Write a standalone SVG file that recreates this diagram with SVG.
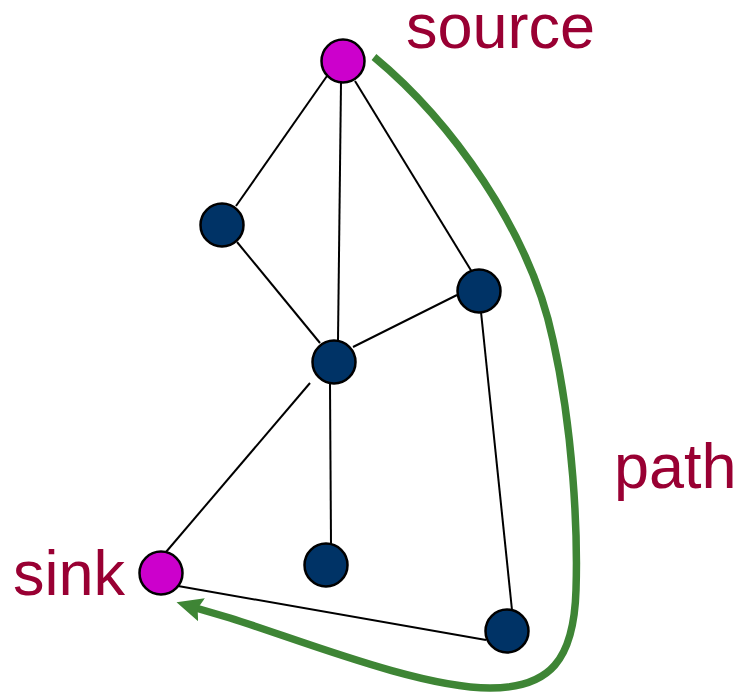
<svg xmlns="http://www.w3.org/2000/svg" width="744" height="694" viewBox="0 0 744 694">
  <style>
    .edge { stroke: #000; stroke-width: 2; fill: none; }
    .node { stroke: #000; stroke-width: 2.5; }
    .term { fill: #CC00CC; }
    .inner { fill: #003366; }
    .label { font-family: "Liberation Sans", Arial, sans-serif; font-size: 63px; fill: #990033; }
    .route { stroke: #3E8535; stroke-width: 7.5; fill: none; }
  </style>
  <defs>
    <marker id="arrowhead" markerUnits="userSpaceOnUse" viewBox="0 0 28 26" markerWidth="28" markerHeight="26" refX="13" refY="13" orient="auto">
      <path d="M0,1 L26,13 L0,25 L4,13 z" fill="#3E8535"/>
    </marker>
  </defs>
  <rect width="744" height="694" fill="#fff"/>

  <g id="edges">
    <line class="edge" x1="327" y1="76" x2="236" y2="206"/>
    <line class="edge" x1="355" y1="81" x2="472" y2="272"/>
    <line class="edge" x1="341" y1="82" x2="338" y2="341"/>
    <line class="edge" x1="237" y1="242" x2="320" y2="343"/>
    <line class="edge" x1="353" y1="347" x2="457" y2="295"/>
    <line class="edge" x1="310" y1="383" x2="166" y2="552"/>
    <line class="edge" x1="330" y1="384" x2="331" y2="544"/>
    <line class="edge" x1="481" y1="312" x2="512" y2="610"/>
    <line class="edge" x1="178" y1="586" x2="486" y2="640"/>
  </g>

  <g id="node-source"><circle class="node term" cx="343" cy="61" r="21.5"/></g>
  <g id="node-a"><circle class="node inner" cx="222" cy="225" r="21.5"/></g>
  <g id="node-b"><circle class="node inner" cx="479" cy="291" r="21.5"/></g>
  <g id="node-c"><circle class="node inner" cx="334" cy="362" r="21.5"/></g>
  <g id="node-d"><circle class="node inner" cx="326" cy="565" r="21.5"/></g>
  <g id="node-sink"><circle class="node term" cx="161" cy="573" r="21.5"/></g>
  <g id="node-e"><circle class="node inner" cx="507" cy="631" r="21.5"/></g>

  <g id="path-route">
    <path class="route" marker-end="url(#arrowhead)" d="M374,57 C450,120 530,230 553,340 C573,430 578,530 576,590 C574,660 550,688 490,688 C420,688 300,640 230,618 L189,606"/>
  </g>

  <g id="labels">
    <text class="label" x="406" y="48">source</text>
    <text class="label" x="614" y="488">path</text>
    <text class="label" x="13" y="595">sink</text>
  </g>
</svg>
